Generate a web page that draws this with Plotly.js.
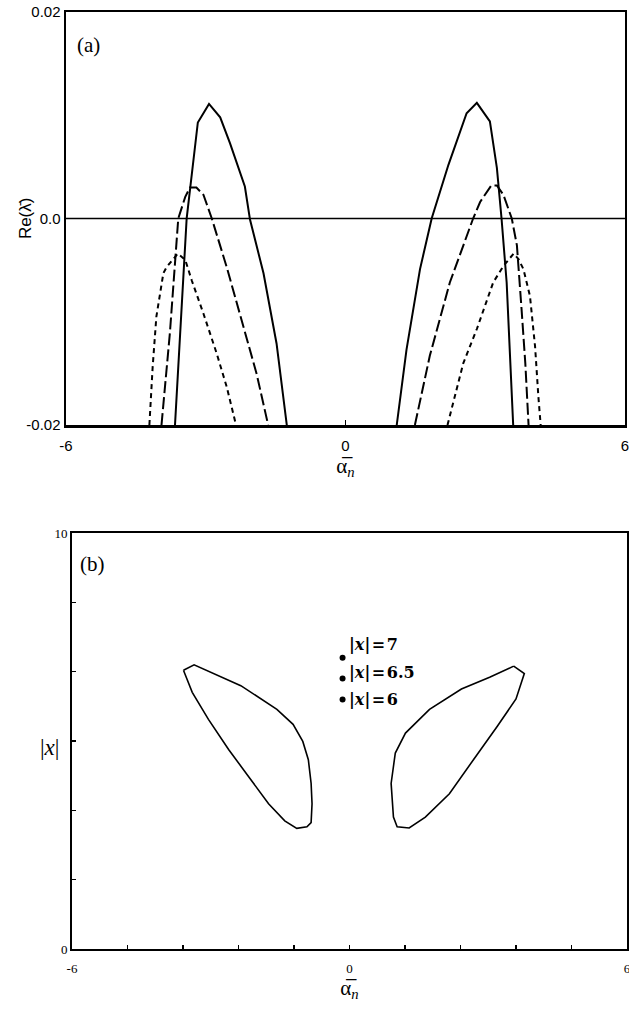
<!DOCTYPE html>
<html>
<head>
<meta charset="utf-8">
<script src="https://cdn.plot.ly/plotly-3.0.1.min.js"></script>
<style>
  html, body { margin: 0; padding: 0; background: #fff; }
  #chart { width: 629px; height: 1010px; }
</style>
</head>
<body>
<div id="chart"></div>
<script>
// ---- Panel (a): growth rate Re(lambda) against alpha_n ----
// solid branch, left and right bands
const solidLeftX  = [-3.66, -3.55, -3.41, -3.17, -2.93, -2.69, -2.48, -2.16, -2.05, -1.76, -1.48, -1.26];
const solidLeftY  = [-0.020, -0.0110, 0.0000, 0.0093, 0.0111, 0.0098, 0.0073, 0.0031, -0.0001, -0.0053, -0.0121, -0.020];
const solidRightX = [1.10, 1.31, 1.60, 1.85, 2.21, 2.60, 2.82, 3.10, 3.25, 3.35, 3.46, 3.53, 3.60];
const solidRightY = [-0.020, -0.0127, -0.0049, 0.0000, 0.0052, 0.0102, 0.0112, 0.0094, 0.0049, 0.0000, -0.0062, -0.0124, -0.020];

// long-dashed branch
const longLeftX  = [-3.95, -3.77, -3.59, -3.44, -3.34, -3.20, -3.05, -2.87, -2.55, -2.19, -1.91, -1.66];
const longLeftY  = [-0.020, -0.0111, 0.0000, 0.0021, 0.0030, 0.0030, 0.0023, 0.0000, -0.0047, -0.0105, -0.0150, -0.020];
const longRightX = [1.49, 1.81, 2.24, 2.74, 2.89, 3.07, 3.13, 3.25, 3.39, 3.57, 3.68, 3.78, 3.86, 3.93];
const longRightY = [-0.020, -0.0133, -0.0062, 0.0000, 0.0016, 0.0029, 0.0032, 0.0032, 0.0023, 0.0000, -0.0026, -0.0088, -0.0140, -0.020];

// short-dashed branch
const shortLeftX  = [-4.21, -4.14, -4.06, -3.91, -3.84, -3.66, -3.60, -3.44, -3.30, -3.05, -2.77, -2.55, -2.35];
const shortLeftY  = [-0.020, -0.0144, -0.0095, -0.0053, -0.0047, -0.0037, -0.0034, -0.0040, -0.0060, -0.0092, -0.0130, -0.0163, -0.020];
const shortRightX = [2.19, 2.53, 2.82, 3.17, 3.39, 3.57, 3.61, 3.71, 3.82, 3.96, 4.07, 4.14, 4.19];
const shortRightY = [-0.020, -0.0140, -0.0107, -0.0062, -0.0046, -0.0036, -0.0034, -0.0039, -0.0049, -0.0075, -0.0124, -0.0172, -0.020];

// neutral-stability reference line
const zeroX = [-6, 6];
const zeroY = [0, 0];

// axis ticks, panel (a)
const aTickX = [-6, 0, 6];
const aTickXText = ['-6', '0', '6'];
const aTickY = [-0.02, 0, 0.02];
const aTickYText = ['-0.02', '0.0', '0.02'];

// ---- Panel (b): unstable regions in the (alpha_n, |x|) plane ----
const lobeLeftX = [-3.59, -3.36, -2.35, -1.57, -1.22, -1.01, -0.89, -0.83, -0.81, -0.83, -0.92, -1.14, -1.40, -1.75, -2.18, -2.61, -3.05, -3.40, -3.59];
const lobeLeftY = [6.70, 6.83, 6.33, 5.76, 5.40, 4.99, 4.55, 3.98, 3.49, 3.04, 2.94, 2.90, 3.08, 3.49, 4.14, 4.79, 5.52, 6.17, 6.70];
const lobeRightX = [3.55, 3.78, 3.60, 3.20, 2.68, 2.16, 1.64, 1.29, 1.03, 0.95, 0.90, 0.99, 1.21, 1.73, 2.42, 3.03, 3.55];
const lobeRightY = [6.80, 6.62, 6.01, 5.36, 4.55, 3.73, 3.17, 2.91, 2.94, 3.17, 3.98, 4.71, 5.19, 5.76, 6.25, 6.53, 6.80];

// marked amplitudes
const markAlpha = [-0.15, -0.15, -0.15];
const markAmp = [7, 6.5, 6];
const markLabels = ['|<i>x</i>|\u200A=\u200A7', '|<i>x</i>|\u200A=\u200A6.5', '|<i>x</i>|\u200A=\u200A6'];

// axis ticks, panel (b): labelled ends plus unlabelled minor marks
const bTickX = [-6, 0, 6];
const bTickXText = ['-6', '0', '6'];
const bTickY = [0, 10];
const bTickYText = ['0', '10'];
const bMinorStepX = 1.2;
const bMinorStepY = 10 / 6;

const ink = '#000';
function curve(x, y, dash, xa, ya, w) {
  return { x: x, y: y, xaxis: xa, yaxis: ya, mode: 'lines', type: 'scatter',
           line: { color: ink, width: w || 2, dash: dash }, hoverinfo: 'skip' };
}

const traces = [
  curve(zeroX, zeroY, 'solid', 'x', 'y', 1.4),
  curve(solidLeftX, solidLeftY, 'solid', 'x', 'y', 2),
  curve(solidRightX, solidRightY, 'solid', 'x', 'y', 2),
  curve(longLeftX, longLeftY, '12px,4px', 'x', 'y', 2),
  curve(longRightX, longRightY, '12px,4px', 'x', 'y', 2),
  curve(shortLeftX, shortLeftY, '5px,4px', 'x', 'y', 2),
  curve(shortRightX, shortRightY, '5px,4px', 'x', 'y', 2),
  curve(lobeLeftX, lobeLeftY, 'solid', 'x2', 'y2', 1.6),
  curve(lobeRightX, lobeRightY, 'solid', 'x2', 'y2', 1.6),
  { x: markAlpha, y: markAmp, xaxis: 'x2', yaxis: 'y2', mode: 'markers', type: 'scatter',
    marker: { color: ink, size: 6 }, hoverinfo: 'skip' }
];

const frame = { showline: true, mirror: true, linecolor: ink, showgrid: false, zeroline: false,
                ticks: 'inside', ticklen: 5, tickwidth: 1.5, tickcolor: ink, ticklabeloverflow: 'allow' };

const labelShift = [13, 6, 0];
const annotations = [
  { text: '(a)', xref: 'x domain', yref: 'y domain', x: 0.016, y: 0.92, xanchor: 'left', yanchor: 'middle',
    showarrow: false, font: { family: 'Liberation Serif', size: 21, color: ink } },
  { text: '(b)', xref: 'x2 domain', yref: 'y2 domain', x: 0.010, y: 0.925, xanchor: 'left', yanchor: 'middle',
    showarrow: false, font: { family: 'Liberation Serif', size: 21, color: ink } },
  // y-axis titles placed by hand so they sit over the tick-label column
  { text: 'Re(λ̄)', xref: 'paper', yref: 'y domain', x: -0.072, y: 0.5, xanchor: 'center', yanchor: 'middle',
    textangle: -90, showarrow: false, font: { family: 'Liberation Sans', size: 17, color: ink } },
  { text: '|<i>x</i>|', xref: 'paper', yref: 'y2 domain', x: -0.030, y: 0.485, xanchor: 'center', yanchor: 'middle',
    showarrow: false, font: { family: 'Liberation Serif', size: 23, color: ink } }
];
markAmp.forEach(function (v, i) {
  annotations.push({ text: '<b>' + markLabels[i] + '</b>', xref: 'x2', yref: 'y2', x: markAlpha[i], y: v,
    xanchor: 'left', yanchor: 'middle', xshift: 4, yshift: labelShift[i], showarrow: false,
    font: { family: 'DejaVu Serif', size: 16, color: ink } });
});

const layout = {
  width: 629, height: 1010,
  margin: { l: 66, r: 2, t: 12, b: 61 },
  paper_bgcolor: '#fff', plot_bgcolor: '#fff',
  font: { color: ink },
  showlegend: false,
  xaxis: Object.assign({}, frame, {
    domain: [0, 0.9964], anchor: 'y', range: [-6, 6], linewidth: 2.5,
    tickvals: aTickX, ticktext: aTickXText, ticklabelstandoff: 5,
    tickfont: { family: 'Liberation Sans', size: 15, color: ink },
    title: { text: 'α̅<sub><i>n</i></sub>', standoff: 2, font: { family: 'Liberation Serif', size: 21, color: ink } }
  }),
  yaxis: Object.assign({}, frame, {
    domain: [0.5592, 1], anchor: 'x', range: [-0.02, 0.02], linewidth: 2.5,
    tickvals: aTickY, ticktext: aTickYText,
    tickfont: { family: 'Liberation Sans', size: 15, color: ink }
  }),
  xaxis2: Object.assign({}, frame, {
    domain: [0.0107, 1], anchor: 'y2', range: [-6, 6], linewidth: 2,
    tickvals: bTickX, ticktext: bTickXText, ticklen: 4, ticklabelstandoff: 6,
    minor: { ticks: 'inside', tick0: -6, dtick: bMinorStepX, ticklen: 4, tickwidth: 1.2, tickcolor: ink },
    tickfont: { family: 'Liberation Serif', size: 13, color: ink },
    title: { text: 'α̅<sub><i>n</i></sub>', standoff: 2, font: { family: 'Liberation Serif', size: 21, color: ink } }
  }),
  yaxis2: Object.assign({}, frame, {
    domain: [0, 0.444], anchor: 'x2', range: [0, 10], linewidth: 2,
    tickvals: bTickY, ticktext: bTickYText, ticklen: 4,
    minor: { ticks: 'inside', tick0: 0, dtick: bMinorStepY, ticklen: 4, tickwidth: 1.2, tickcolor: ink },
    tickfont: { family: 'Liberation Serif', size: 13, color: ink }
  }),
  annotations: annotations
};

Plotly.newPlot('chart', traces, layout, { displayModeBar: false, staticPlot: true });
</script>
</body>
</html>
